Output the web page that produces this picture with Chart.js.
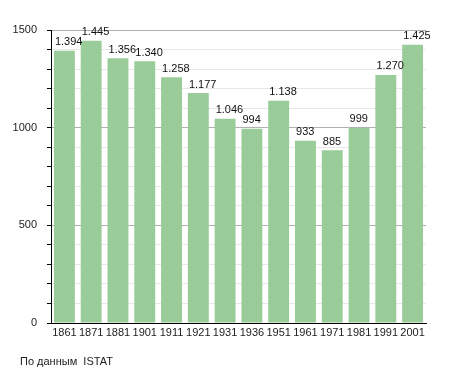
<!DOCTYPE html>
<html>
<head>
<meta charset="utf-8">
<script src="https://cdn.jsdelivr.net/npm/chart.js@4"></script>
<style>
    body { margin: 0; background: #fff; }
    #wrap { position: relative; width: 455px; height: 373px; }
    #source {
        position: absolute;
        left: 20px;
        top: 355px;
        font: 11px "Liberation Sans", Arial, sans-serif;
        color: #222;
    }
</style>
</head>
<body>
<div id="wrap">
    <canvas id="popChart" width="455" height="373"></canvas>
    <div id="source">По данным&nbsp; ISTAT</div>
</div>
<script>
const years = ["1861", "1871", "1881", "1901", "1911", "1921", "1931", "1936", "1951", "1961", "1971", "1981", "1991", "2001"];
const population = [1394, 1445, 1356, 1340, 1258, 1177, 1046, 994, 1138, 933, 885, 999, 1270, 1425];
const yTicks = [0, 500, 1000, 1500];

function formatNumber(value) {
    return String(value).replace(/\B(?=(\d{3})+(?!\d))/g, ".");
}

const barLabels = {
    id: "barLabels",
    afterDatasetsDraw(chart) {
        const ctx = chart.ctx;
        const meta = chart.getDatasetMeta(0);
        ctx.save();
        ctx.font = "11px 'Liberation Sans', Arial, sans-serif";
        ctx.fillStyle = "#111";
        ctx.textBaseline = "bottom";
        ctx.textAlign = "left";
        meta.data.forEach((bar, i) => {
            const left = bar.x - bar.width / 2 + 1;
            ctx.fillText(formatNumber(population[i]), left, bar.y - 3);
        });
        ctx.restore();
    },
};

new Chart(document.getElementById("popChart"), {
    type: "bar",
    data: {
        labels: years,
        datasets: [
            {
                data: population,
                backgroundColor: "#99cc99",
                categoryPercentage: 1,
                barPercentage: 0.78,
            },
        ],
    },
    options: {
        responsive: false,
        animation: false,
        layout: {
            padding: { top: 30, right: 29, left: 0, bottom: 0 },
        },
        plugins: {
            legend: { display: false },
            tooltip: { enabled: false },
        },
        scales: {
            x: {
                grid: { display: false, drawTicks: false },
                border: { color: "#000", width: 1 },
                ticks: {
                    color: "#222",
                    font: { family: "'Liberation Sans', Arial, sans-serif", size: 11 },
                    maxRotation: 0,
                    autoSkip: false,
                    padding: 3,
                },
                afterFit(scale) {
                    scale.height = 50;
                },
            },
            y: {
                min: 0,
                max: 1500,
                border: { color: "#000", width: 1 },
                grid: {
                    color: ctx => (ctx.tick.value % 500 === 0 ? "#b0b0b0" : "#e8e8e8"),
                    tickColor: "#000",
                    tickLength: 4,
                },
                ticks: {
                    stepSize: 100,
                    color: "#222",
                    padding: 10,
                    font: { family: "'Liberation Sans', Arial, sans-serif", size: 11 },
                    callback: value => (yTicks.includes(value) ? String(value) : ""),
                },
                afterFit(scale) {
                    scale.width = 51;
                },
            },
        },
    },
    plugins: [barLabels],
});
</script>
</body>
</html>
